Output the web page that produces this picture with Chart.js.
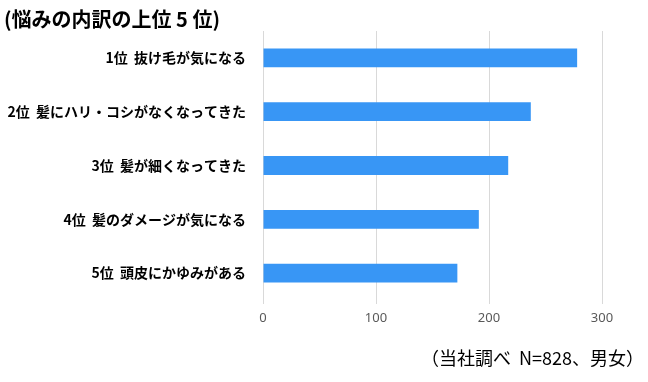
<!DOCTYPE html>
<html>
<head>
<meta charset="utf-8">
<script src="https://cdn.jsdelivr.net/npm/chart.js@4"></script>
<style>
  html, body { margin: 0; padding: 0; background: #fff; }
  #wrap { position: relative; width: 648px; height: 382px; }
  #title {
    position: absolute; left: 4px; top: 4px;
    font: bold 20px "Noto Sans CJK JP"; color: #000; white-space: nowrap;
  }
  #note {
    position: absolute; right: 4px; top: 344px;
    font: 18px "Noto Sans CJK JP"; color: #000; white-space: nowrap;
  }
</style>
</head>
<body>
<div id="wrap">
  <canvas id="chart" width="648" height="382"></canvas>
  <div id="title">(悩みの内訳の上位 5 位)</div>
  <div id="note">（当社調べ&nbsp; N=828、男女）</div>
</div>
<script>
// data
const categories = [
  "1位  抜け毛が気になる",
  "2位  髪にハリ・コシがなくなってきた",
  "3位  髪が細くなってきた",
  "4位  髪のダメージが気になる",
  "5位  頭皮にかゆみがある"
];
const counts = [278, 237, 217, 191, 172];
const xTicks = [0, 100, 200, 300];

/* -------------------------------
   CHART
--------------------------------*/
new Chart(document.getElementById("chart"), {
  type: "bar",
  data: {
    labels: categories,
    datasets: [{
      data: counts,
      backgroundColor: "#3896f5",
      barPercentage: 0.7,
      categoryPercentage: 0.5
    }]
  },
  options: {
    indexAxis: "y",
    responsive: false,
    animation: false,
    layout: { padding: { top: 31, bottom: 52, left: 0, right: 46 } },
    plugins: { legend: { display: false }, tooltip: { enabled: false } },
    scales: {
      x: {
        min: 0,
        max: xTicks[xTicks.length - 1],
        afterFit: s => { s.height = 30; },
        afterBuildTicks: s => { s.ticks = xTicks.map(v => ({ value: v })); },
        grid: { color: "#d9d9d9", tickLength: 4 },
        border: { display: false },
        ticks: { color: "#595959", font: { family: "Noto Sans", size: 13 }, padding: 6 }
      },
      y: {
        afterFit: s => { s.width = 263; },
        grid: { display: false },
        border: { display: false },
        ticks: { color: "#000", font: { family: "Noto Sans CJK JP", size: 14, weight: "bold" }, padding: 9 }
      }
    }
  }
});
</script>
</body>
</html>
